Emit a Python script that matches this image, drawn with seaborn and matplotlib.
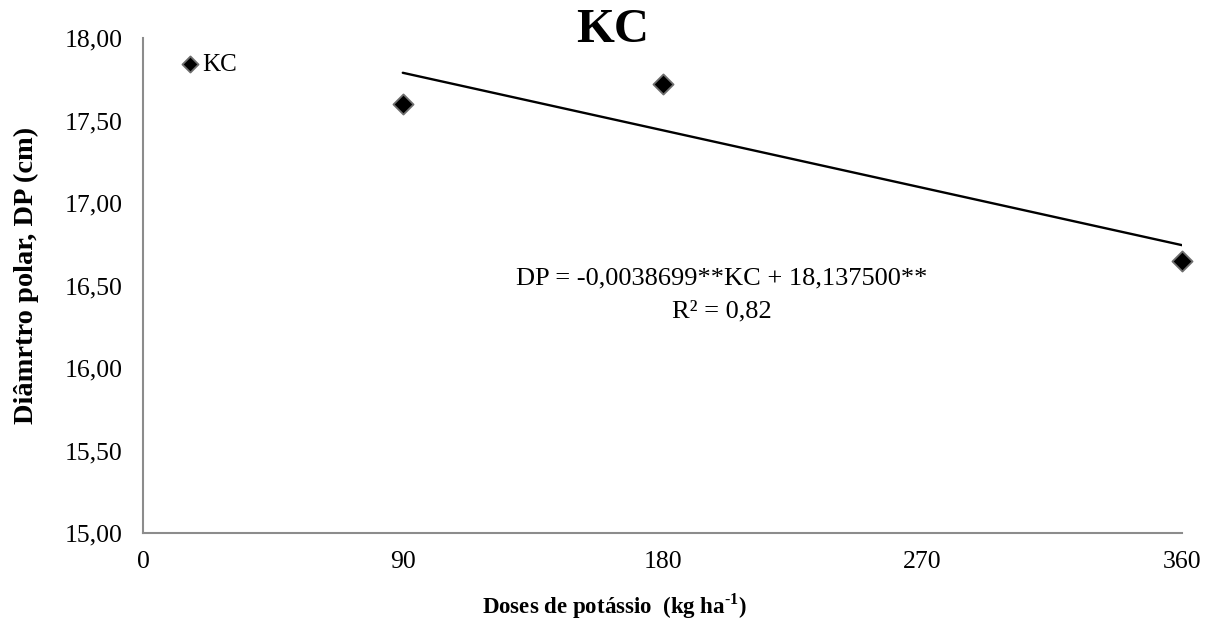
import numpy as np
import pandas as pd
import matplotlib
matplotlib.use("Agg")
import matplotlib.pyplot as plt
import seaborn as sns

# Potassium doses (kg/ha) and polar diameter (cm)
doses = [90, 180, 360]
diametro = [17.60, 17.72, 16.65]

# Regression coefficients of the fitted line
slope = -0.0038699
intercept = 18.137500
r2 = 0.82

x_ticks = [0, 90, 180, 270, 360]
y_ticks = [15.00, 15.50, 16.00, 16.50, 17.00, 17.50, 18.00]

sns.set_theme(style="white")
plt.rcParams["font.family"] = ["Liberation Serif", "DejaVu Serif"]
plt.rcParams["mathtext.fontset"] = "custom"
plt.rcParams["mathtext.rm"] = "Liberation Serif"
plt.rcParams["mathtext.bf"] = "Liberation Serif:bold"
plt.rcParams["text.color"] = "black"
plt.rcParams["axes.labelcolor"] = "black"

fig = plt.figure(figsize=(12.13, 6.26), dpi=100)
ax = fig.add_axes([0.1179, 0.1486, 0.8566, 0.7907])

df = pd.DataFrame({"dose": doses, "dp": diametro})
line_x = np.array([min(doses), max(doses)], dtype=float)
line_df = pd.DataFrame({"dose": line_x, "dp": intercept + slope * line_x})

sns.lineplot(data=line_df, x="dose", y="dp", ax=ax, color="black", lw=1.7, legend=False)
sns.scatterplot(data=df, x="dose", y="dp", ax=ax, marker="D", s=105,
                color="black", edgecolor="#6e6e6e", linewidth=1.3, label="KC",
                zorder=5, clip_on=False)

ax.set_xlim(0, 360)
ax.set_ylim(15, 18)
ax.set_xticks(x_ticks)
ax.set_yticks(y_ticks)
ax.set_xticklabels([str(v) for v in x_ticks])
ax.set_yticklabels([f"{v:.2f}".replace(".", ",") for v in y_ticks])

for side in ["top", "right"]:
    ax.spines[side].set_visible(False)
for side in ["left", "bottom"]:
    ax.spines[side].set_color("#8c8c8c")
    ax.spines[side].set_linewidth(1.5)
ax.tick_params(axis="both", which="major", direction="out", length=5, width=1.5,
               color="#8c8c8c", labelsize=18.5, labelcolor="black")
ax.tick_params(axis="x", pad=8)
ax.tick_params(axis="y", pad=10)

ax.set_xlabel("Doses de potássio  (kg ha$^{\\mathbf{\u2010 1}}$)".replace("\u2010 1", "\u20101"),
              fontsize=16.5, fontweight="bold")
ax.xaxis.set_label_coords(0.454, -0.118)
ax.set_ylabel("Diâmrtro polar, DP (cm)", fontsize=20.5, fontweight="bold")
ax.yaxis.label.set_verticalalignment("center")
ax.yaxis.set_label_coords(-0.112, 0.521)

fig.text(0.505, 0.952, "KC", ha="center", va="center", fontsize=35, fontweight="bold")

ax.text(0.557, 0.515, "DP = -0,0038699**KC + 18,137500**", transform=ax.transAxes,
        ha="center", va="center", fontsize=19)
ax.text(0.557, 0.448, f"R² = {r2:.2f}".replace(".", ","), transform=ax.transAxes,
        ha="center", va="center", fontsize=19)

leg = ax.legend(loc="center left", bbox_to_anchor=(0.033, 0.946), frameon=False,
                fontsize=18, handletextpad=0.0, borderaxespad=0.0, markerscale=0.8,
                handlelength=1.0, borderpad=0.0)

fig.savefig("out.png", dpi=100)
